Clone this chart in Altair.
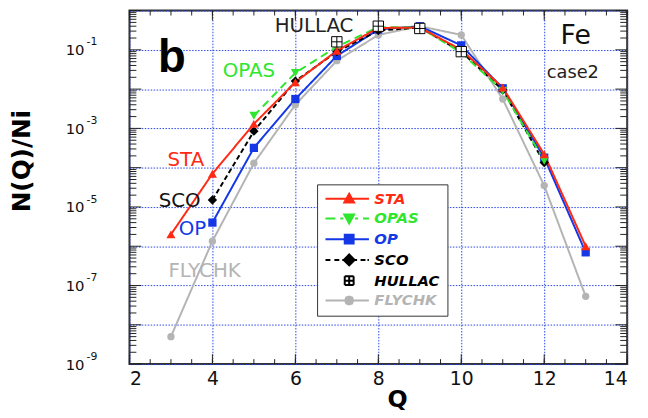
import altair as alt
import pandas as pd

# ---------------- data ----------------
Q_STA = [3, 4, 5, 6, 7, 8, 9, 10, 11, 12, 13]
STA = [2.0e-6, 7.0e-5, 1.3e-3, 1.5e-2, 0.095, 0.36, 0.37, 0.10, 1.1e-2, 2.2e-4, 1.0e-6]
Q_OPAS = [5, 6, 7, 8, 9, 10, 11, 12]
OPAS = [2.1e-3, 2.6e-2, 0.12, 0.38, 0.37, 0.085, 9.0e-3, 1.5e-4]
Q_OP = [4, 5, 6, 7, 8, 9, 10, 11, 12, 13]
OP = [4.0e-6, 3.2e-4, 5.6e-3, 0.07, 0.33, 0.40, 0.13, 1.05e-2, 1.8e-4, 7.0e-7]
Q_SCO = [4, 5, 6, 7, 8, 9, 10, 11, 12]
SCO = [1.5e-5, 8.5e-4, 1.6e-2, 0.09, 0.31, 0.37, 0.09, 9.5e-3, 1.35e-4]
Q_HULLAC = [7, 8, 9, 10]
HULLAC = [0.16, 0.40, 0.35, 0.09]
Q_FLYCHK = [3, 4, 5, 6, 7, 8, 9, 10, 11, 12, 13]
FLYCHK = [5.0e-9, 1.35e-6, 1.3e-4, 4.0e-3, 0.053, 0.24, 0.40, 0.24, 5.6e-3, 3.5e-5, 5.3e-8]

SERIES = ["STA", "OPAS", "OP", "SCO", "HULLAC", "FLYCHK"]
COLORS = ["#ff2a14", "#2ee62e", "#1438e6", "#000000", "#000000", "#b4b4b4"]
COL = dict(zip(SERIES, COLORS))

X_TICKS = [2, 4, 6, 8, 10, 12, 14]
X_MINOR = [2 + 0.5 * i for i in range(25)]
Y_DECADES = [10.0 ** e for e in range(-9, 1)]
Y_MINOR = [k * 10.0 ** e for e in range(-9, 0) for k in range(2, 10)]

# annotations: (text, Q, value, colour, size, font, weight)
ANNOT = [
    ("b", 3.02, 10 ** -1.20, "#000000", 46, "Liberation Sans", "bold"),
    ("HULLAC", 6.45, 10 ** -0.40, "#222222", 20, "DejaVu Sans", "normal"),
    ("OPAS", 4.88, 10 ** -1.55, "#2ee62e", 20, "DejaVu Sans", "normal"),
    ("STA", 3.36, 10 ** -3.81, "#ff2a14", 20, "DejaVu Sans", "normal"),
    ("SCO", 3.21, 10 ** -4.86, "#111111", 20, "DejaVu Sans", "normal"),
    ("OP", 3.52, 10 ** -5.56, "#1438e6", 20, "DejaVu Sans", "normal"),
    ("FLYCHK", 3.81, 10 ** -6.62, "#b4b4b4", 20, "DejaVu Sans", "normal"),
    ("Fe", 12.76, 10 ** -0.65, "#111111", 27, "DejaVu Sans", "normal"),
    ("case2", 12.69, 10 ** -1.58, "#222222", 18, "DejaVu Sans", "normal"),
]

rows = []
for name, qs, vs in [("FLYCHK", Q_FLYCHK, FLYCHK), ("OP", Q_OP, OP), ("SCO", Q_SCO, SCO),
                     ("OPAS", Q_OPAS, OPAS), ("STA", Q_STA, STA), ("HULLAC", Q_HULLAC, HULLAC)]:
    for q, v in zip(qs, vs):
        rows.append({"series": name, "Q": q, "val": v})
df = pd.DataFrame(rows)

W, H = 504, 358
xs = alt.Scale(domain=[2, 14], nice=False, zero=False)
ys = alt.Scale(type="log", domain=[1e-9, 1], nice=False)
GRID = "#2a46e8"
TICK = "#222222"

exp_expr = "round(log(datum.value)/LN10)"

# ---------- labelled axes (empty layer) ----------
axes_layer = alt.Chart(df).transform_filter("false").mark_point().encode(
    x=alt.X("Q:Q", scale=xs, axis=alt.Axis(
        orient="bottom", values=X_TICKS, grid=True, gridColor=GRID, gridDash=[1.5, 1.5], gridWidth=1,
        ticks=False, tickSize=0, domain=False, labelFont="DejaVu Sans", labelFontSize=19,
        labelPadding=6, labelColor="#111111", title="Q", titleFont="DejaVu Sans", titleFontSize=24,
        titleFontWeight="bold", titleColor="#000000", titleX=271, titleY=36, titleBaseline="middle",
        titleAlign="center")),
    y=alt.Y("val:Q", scale=ys, axis=alt.Axis(
        orient="left", values=Y_DECADES, grid=True, gridColor=GRID, gridDash=[1.5, 1.5], gridWidth=1,
        ticks=False, tickSize=0, domain=False, labelFont="DejaVu Sans", labelFontSize=15,
        labelPadding=46, labelColor="#111111", labelBaseline="middle",
        labelExpr="(datum.value < 1 && " + exp_expr + " % 2 != 0) ? '10' : ''",
        title="N(Q)/Ni", titleFont="DejaVu Sans", titleFontSize=25, titleFontWeight="bold",
        titleColor="#000000", titleX=-109, titleY=152, titleBaseline="middle", titleAlign="center")),
)

# exponent labels
expo = alt.Chart(df).transform_filter("false").mark_point().encode(
    y=alt.Y("val:Q", scale=ys, axis=alt.Axis(
        orient="left", values=Y_DECADES, grid=False, ticks=False, tickSize=0, domain=False,
        labelFont="DejaVu Sans", labelFontSize=11, labelPadding=33, labelOffset=-8, labelColor="#111111",
        labelExpr="(datum.value < 1 && " + exp_expr + " % 2 != 0) ? ('' + " + exp_expr + ") : ''",
        title=None)),
)


# ---------- inward tick marks along the frame ----------
def xticks(vals, y0, y1):
    return alt.Chart(pd.DataFrame({"v": vals})).mark_rule(color=TICK, strokeWidth=1).encode(
        x=alt.X("v:Q", scale=xs, axis=None), y=alt.value(y0), y2=alt.value(y1))


def yticks(vals, x0, x1):
    return alt.Chart(pd.DataFrame({"v": vals})).mark_rule(color=TICK, strokeWidth=1).encode(
        y=alt.Y("v:Q", scale=ys, axis=None), x=alt.value(x0), x2=alt.value(x1))


ticks = [
    xticks(X_MINOR, H, H - 5), xticks(X_TICKS, H, H - 10),
    xticks(X_MINOR, 0, 5), xticks(X_TICKS, 0, 10),
    yticks(Y_MINOR, 0, 7), yticks(Y_DECADES, 0, 12),
    yticks(Y_MINOR, W, W - 7), yticks(Y_DECADES, W, W - 12),
]


# ---------- lines ----------
def line(name, dash):
    return alt.Chart(df).transform_filter(f"datum.series == '{name}'").mark_line(
        color=COL[name], strokeWidth=2, strokeDash=dash).encode(
        x=alt.X("Q:Q", scale=xs, axis=None), y=alt.Y("val:Q", scale=ys, axis=None))


lines = [line("FLYCHK", [1, 0]), line("OP", [1, 0]), line("SCO", [5, 3]),
         line("OPAS", [8, 5]), line("STA", [1, 0])]


# ---------- markers ----------
def pts(name, shape, size):
    return alt.Chart(df).transform_filter(f"datum.series == '{name}'").mark_point(
        shape=shape, size=size, filled=True, color=COL[name], opacity=1).encode(
        x=alt.X("Q:Q", scale=xs, axis=None), y=alt.Y("val:Q", scale=ys, axis=None))


HULL_SHAPE = "M-1,-1H1V1H-1Z M0,-1V1 M-1,0H1"
markers = [
    pts("FLYCHK", "circle", 55),
    pts("OP", "square", 70),
    pts("SCO", "diamond", 90),
    pts("OPAS", "triangle-down", 85),
    pts("STA", "triangle-up", 85),
    alt.Chart(df).transform_filter("datum.series == 'HULLAC'").mark_point(
        shape=HULL_SHAPE, size=110, filled=True, fill="white", stroke="black", strokeWidth=1,
        opacity=1).encode(
        x=alt.X("Q:Q", scale=xs, axis=None), y=alt.Y("val:Q", scale=ys, axis=None)),
]

# ---------- legend ----------
LEG_PATHS = [
    "M-1.2,0H7.6M3.6,-1L4.6,0.8H2.6Z",
    "M-1.2,0H0.8M1.8,0H2.4M4.8,0H5.4M6.4,0H7.6M2.6,-0.8H4.6L3.6,1Z",
    "M-1.2,0H7.6M2.7,-0.9H4.5V0.9H2.7Z",
    "M-1.2,0H-0.2M0.6,0H1.6M2.2,0H2.5M4.7,0H5.2M5.9,0H6.9M7.3,0H7.6M3.6,-1.1L4.7,0L3.6,1.1L2.5,0Z",
    "M2.7,-0.9H4.5M4.5,-0.9V0.9M4.5,0.9H2.7M2.7,0.9V-0.9M3.6,-0.9V0.9M2.7,0H4.5",
    "M-1.2,0H7.6M2.8,0L3.0,-0.6L3.6,-0.8L4.2,-0.6L4.4,0L4.2,0.6L3.6,0.8L3.0,0.6Z",
]
leg = alt.Legend(
    orient="none", legendX=190, legendY=176, title=None, padding=7, strokeColor="#333333",
    fillColor="white", symbolSize=100, symbolStrokeWidth=2, symbolOpacity=1, labelOffset=36,
    labelFont="DejaVu Sans", labelFontSize=15, labelFontStyle="italic", labelFontWeight="bold",
    labelColor={"expr": "scale('stroke', datum.value)"}, rowPadding=3, labelLimit=200,
)
legend_layer = alt.Chart(df).transform_filter("false").mark_point(filled=True).encode(
    x=alt.X("Q:Q", scale=xs, axis=None), y=alt.Y("val:Q", scale=ys, axis=None),
    shape=alt.Shape("series:N", scale=alt.Scale(domain=SERIES, range=LEG_PATHS), legend=leg),
    fill=alt.Fill("series:N", scale=alt.Scale(domain=SERIES, range=COLORS), legend=leg),
    stroke=alt.Stroke("series:N", scale=alt.Scale(domain=SERIES, range=COLORS), legend=leg),
)

# ---------- annotations ----------
texts = []
for t, q, v, c, s, f, w in ANNOT:
    texts.append(alt.Chart(pd.DataFrame([{"t": t, "Q": q, "val": v}])).mark_text(
        font=f, fontSize=s, fontWeight=w, color=c, align="center", baseline="middle").encode(
        x=alt.X("Q:Q", scale=xs, axis=None), y=alt.Y("val:Q", scale=ys, axis=None), text="t:N"))

chart = alt.layer(axes_layer, expo, *ticks, *lines, *markers, legend_layer, *texts).resolve_axis(
    x="independent", y="independent"
).properties(
    width=W, height=H,
    autosize=alt.AutoSizeParams(type="none"),
    padding={"left": 123, "top": 0, "right": 13, "bottom": 52},
    background="white",
).configure_view(stroke="#333333", strokeWidth=2)

chart.save("out.html", embed_options={"renderer": "svg", "actions": False})
